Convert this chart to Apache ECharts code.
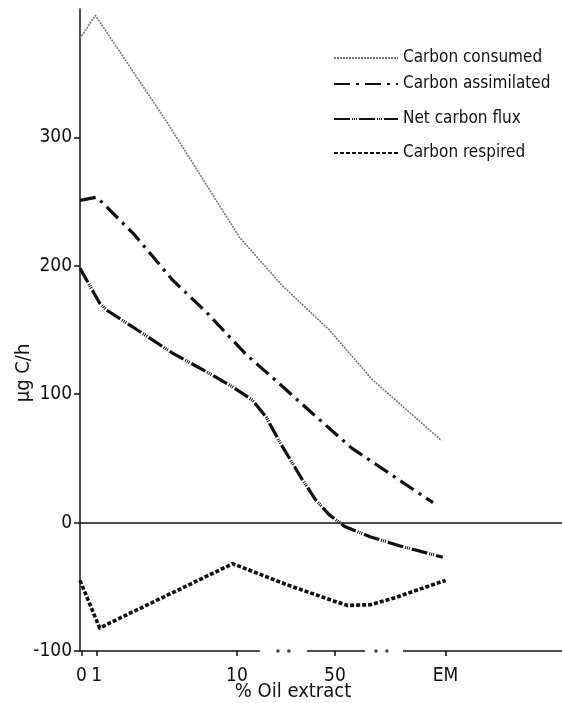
<!DOCTYPE html>
<html>
<head>
<meta charset="utf-8">
<script src="https://cdn.jsdelivr.net/npm/echarts@6/dist/echarts.min.js"></script>
<style>
html,body{margin:0;padding:0;background:#fff;}
#chart{width:562px;height:703px;}
</style>
</head>
<body>
<div id="chart"></div>
<script>
// x positions are in log10(% oil extract) units; "0" and "EM" placed off the log scale as in the original
const xLabels = ['0', '1', '10', '50', 'EM'];
const xPos = [-0.11, 0, 1, 1.7, 2.49];
const yTicks = [-100, 0, 100, 200, 300];

const seriesNames = ['Carbon consumed', 'Carbon assimilated', 'Net carbon flux', 'Carbon respired'];

const carbonConsumed = [
  [-0.12, 377], [-0.01, 395], [0.5, 312], [1.02, 222], [1.32, 185],
  [1.66, 150], [1.97, 111], [2.46, 64]
];
const carbonAssimilated = [
  [-0.12, 251], [0, 253.5], [0.27, 224], [0.54, 189], [0.79, 163],
  [1.07, 130.5], [1.29, 109.5], [1.54, 85], [1.82, 58], [2.4, 15.5]
];
const netCarbonFlux = [
  [-0.12, 198], [0.02, 171], [0.07, 165.5], [0.29, 150], [0.54, 132],
  [0.79, 117], [0.97, 105.6], [1.11, 95.5], [1.21, 82], [1.31, 62],
  [1.46, 34.7], [1.56, 18], [1.66, 6], [1.77, -3], [1.95, -11],
  [2.16, -18], [2.47, -27]
];
const carbonRespired = [
  [-0.12, -45], [0.02, -82], [0.97, -32], [1.36, -48.5], [1.69, -61],
  [1.79, -64.5], [1.95, -64], [2.13, -58.5], [2.3, -52], [2.49, -45]
];

// broken baseline of the x axis (axis units) and the break dots
const baseSegments = [[-0.12, 1.164], [1.5, 1.914], [2.186, 3.321]];
const breakDots = [1.293, 1.371, 1.993, 2.071];

const FONT = "'DejaVu Sans Condensed', 'Liberation Sans Narrow', 'Roboto Condensed', 'Liberation Sans', sans-serif";

const chart = echarts.init(document.getElementById('chart'), null, {renderer: 'canvas'});

function lineSeries(name, data, color, width, dash) {
  return {
    name: name, type: 'line', data: data, symbol: 'none', showSymbol: false, smooth: false,
    lineStyle: {color: color, width: width, type: dash, cap: 'butt', join: 'round'},
    itemStyle: {color: color},
    z: 3
  };
}

const legendTops = [48, 74, 109, 143];

const option = {
  animation: false,
  backgroundColor: '#fff',
  grid: {left: 80, right: 0, top: 9, bottom: 52, containLabel: false},
  legend: seriesNames.map((n, i) => ({
    data: [n], left: 333, top: legendTops[i], orient: 'vertical', padding: 0,
    itemWidth: 64, itemHeight: 14, itemGap: 0,
    itemStyle: {opacity: 0, borderWidth: 0},
    textStyle: {fontFamily: FONT, fontSize: 17, color: '#111', lineHeight: 20},
    selectedMode: false
  })),
  xAxis: {
    type: 'value', min: -0.12, max: 3.321,
    axisLine: {show: false, onZero: false},
    axisTick: {show: true, customValues: xPos, length: 5, inside: false, lineStyle: {color: '#111', width: 1.5}},
    axisLabel: {
      customValues: xPos, margin: 16, color: '#111', fontFamily: FONT, fontSize: 19,
      formatter: v => { const i = xPos.findIndex(p => Math.abs(p - v) < 1e-6); return i >= 0 ? xLabels[i] : ''; }
    },
    splitLine: {show: false}
  },
  yAxis: {
    type: 'value', min: -100, max: 400,
    axisLine: {show: true, onZero: false, lineStyle: {color: '#111', width: 1.5}},
    axisTick: {show: true, customValues: yTicks, length: 6, lineStyle: {color: '#111', width: 1.5}},
    axisLabel: {customValues: yTicks, margin: 8, color: '#111', fontFamily: FONT, fontSize: 19},
    splitLine: {show: false}
  },
  graphic: [
    {type: 'text', x: 24, y: 373, rotation: Math.PI / 2,
     style: {text: 'μg C/h', fontFamily: FONT, fontSize: 20, fill: '#111', align: 'center', verticalAlign: 'middle'}},
    {type: 'text', x: 293, y: 692,
     style: {text: '% Oil extract', fontFamily: FONT, fontSize: 20, fill: '#111', align: 'center', verticalAlign: 'middle'}}
  ],
  series: [
    lineSeries(seriesNames[0], carbonConsumed, '#777', 1.6, [2, 1]),
    lineSeries(seriesNames[1], carbonAssimilated, '#111', 3.2, [16, 6, 3, 6]),
    lineSeries(seriesNames[2], netCarbonFlux, '#111', 3.2, [16, 2, 1, 1, 1, 1, 1, 2]),
    lineSeries(seriesNames[3], carbonRespired, '#111', 3.6, [4, 2]),
    {
      name: 'axis', type: 'scatter', data: breakDots.map(x => [x, -100]),
      symbol: 'circle', symbolSize: 3.5, itemStyle: {color: '#111'}, silent: true, z: 2,
      markLine: {
        silent: true, symbol: 'none', animation: false,
        label: {show: false},
        lineStyle: {color: '#111', width: 1.5, type: 'solid'},
        data: baseSegments.map(s => [{coord: [s[0], -100]}, {coord: [s[1], -100]}])
          .concat([[{coord: [-0.12, 0]}, {coord: [3.321, 0]}]])
      }
    }
  ]
};
chart.setOption(option);
</script>
</body>
</html>
